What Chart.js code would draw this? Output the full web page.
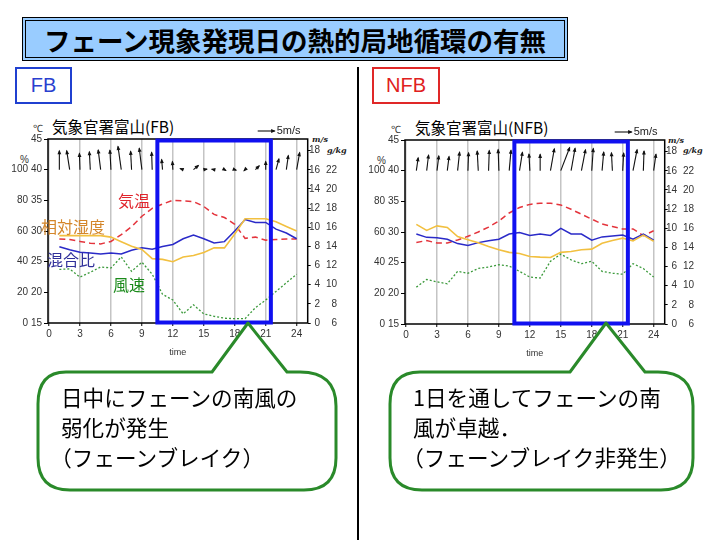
<!DOCTYPE html>
<html><head><meta charset="utf-8">
<script src="https://cdn.jsdelivr.net/npm/chart.js@4.4.1/dist/chart.umd.min.js"></script>
<style>
body{margin:0;background:#fff;}
#page{position:relative;width:720px;height:540px;overflow:hidden;background:#fff;font-family:"Noto Sans CJK JP",sans-serif;}
.abs{position:absolute;white-space:nowrap;line-height:1;}
#title{position:absolute;left:22px;top:17px;width:546px;height:44px;box-sizing:border-box;border:4px double #000;background:#99ccff;display:flex;align-items:center;justify-content:center;font-weight:700;font-size:26.5px;letter-spacing:0px;color:#000;}
.tag{position:absolute;box-sizing:border-box;display:flex;align-items:center;justify-content:center;font-family:"Liberation Sans",sans-serif;font-size:20px;}
#divider{position:absolute;left:357px;top:67px;width:2px;height:473px;background:#000;}
canvas{position:absolute;}
.unit{font-family:"DejaVu Serif",serif;font-style:italic;font-weight:700;font-size:8px;color:#222;}
.sm{font-family:"Liberation Sans",sans-serif;font-size:10px;color:#333;}
.ctitle{font-size:15.5px;color:#000;}
.lbl{font-size:16px;}
.call{font-size:21.6px;line-height:30px;color:#000;}
.hp{font-feature-settings:"halt";}
svg{position:absolute;left:0;top:0;}
</style></head>
<body><div id="page">
<div id="title">フェーン現象発現日の熱的局地循環の有無</div>
<div class="tag" style="left:15px;top:67px;width:57px;height:37px;border:2px solid #2040d0;color:#2a3fcf;">FB</div>
<div class="tag" style="left:372px;top:67px;width:68px;height:37px;border:2px solid #e02828;color:#e02020;">NFB</div>
<div id="divider"></div>

<div class="abs ctitle" style="left:52px;top:119px;">気象官署富山(FB)</div>
<div class="abs ctitle" style="left:415px;top:120px;">気象官署富山(NFB)</div>

<div class="abs sm" style="left:33px;top:124px;">℃</div>
<div class="abs sm" style="left:20px;top:155px;">%</div>
<div class="abs unit" style="left:312px;top:135px;">m/s</div>
<div class="abs unit" style="left:327px;top:146px;">g/kg</div>

<div class="abs sm" style="left:391px;top:125px;">℃</div>
<div class="abs sm" style="left:377px;top:156px;">%</div>
<div class="abs unit" style="left:668px;top:136px;">m/s</div>
<div class="abs unit" style="left:683px;top:146px;">g/kg</div>

<canvas id="fb" width="352" height="240" style="left:0px;top:118px;"></canvas>
<canvas id="nfb" width="352" height="240" style="left:357px;top:119px;"></canvas>

<div class="abs lbl" style="left:118px;top:192px;color:#e0242c;">気温</div>
<div class="abs lbl" style="left:41px;top:218px;color:#d4862a;">相対湿度</div>
<div class="abs lbl" style="left:47px;top:251px;color:#30309a;">混合比</div>
<div class="abs lbl" style="left:113px;top:276px;color:#1a8a1a;">風速</div>

<svg width="720" height="540">
<path d="M66,372 L212,372 L248,323 L287,372 L300,372 Q336,372 336,406 L336,458 Q336,490 304,490 L70,490 Q38,490 38,458 L38,404 Q38,372 66,372 Z" fill="#fff" stroke="#2a8a2a" stroke-width="3" stroke-linejoin="round"/>
<path d="M420,372 L570,372 L606,323 L645,372 L658,372 Q693,372 693,406 L693,458 Q693,490 661,490 L422,490 Q390,490 390,458 L390,404 Q390,372 420,372 Z" fill="#fff" stroke="#2a8a2a" stroke-width="3" stroke-linejoin="round"/>
</svg>

<div class="abs call" style="left:61px;top:382px;">日中にフェーンの南風の<br>弱化が発生<br><span class="hp">（</span>フェーンブレイク<span class="hp">）</span></div>
<div class="abs call" style="left:413px;top:382px;">1日を通してフェーンの南<br>風が卓越．<br><span class="hp">（</span>フェーンブレイク非発生<span class="hp">）</span></div>
</div>

<script>
// ---- data ----
const hours = [1,2,3,4,5,6,7,8,9,10,11,12,13,14,15,16,17,18,19,20,21,22,23,24];
const xTicks = [0,3,6,9,12,15,18,21,24];
const tempTicks = [15,20,25,30,35,40,45];
const rhTicks = [0,20,40,60,80,100];
const windTicks = [0,2,4,6,8,10,12,14,16,18];
const mixTicks = [6,8,10,12,14,16,18,20,22];
const breakWindow = [10.5, 21.5];

// FB day
const fbTemp = [28.7,28.6,28.3,28.0,27.9,28.3,29.4,30.7,32.4,33.7,34.4,35.0,34.9,34.8,34.0,32.7,32.2,31.1,28.8,29.0,28.5,28.6,28.7,28.7];
const fbRH   = [57,57,57,57,57,56,53,50,48,42,41.5,40,43,44,46,49,49,58,68,68,68,66,63,60];
const fbMix  = [13.97,13.65,13.4,13.3,13.2,13.3,13.2,13.6,13.85,13.7,14.0,14.2,14.8,15.2,14.8,14.35,14.5,15.6,16.8,16.5,16.5,15.8,15.4,14.8];
const fbWind = [5.6,5.65,4.8,5.3,5.85,5.75,6.9,5.4,6.35,5.1,3.0,2.4,0.95,1.9,0.95,0.7,0.5,0.45,0.45,1.6,2.4,3.3,4.2,5.1];
const fbDir  = [0,-9,-2,-3,-7,-3,-8,-3,-7,-2,-5,-3,-70,50,80,-80,120,110,225,45,0,15,8,10];

// NFB day
const nfbTemp = [28.3,28.6,28.2,28.2,28.7,29.3,30.0,30.8,31.8,33.1,34.0,34.5,34.7,34.7,34.4,33.7,32.9,32.1,31.3,30.9,30.5,30.5,29.4,30.2];
const nfbRH   = [65,61,64,63,57,55,53,50.5,48.4,46.7,46,44,43.6,43.4,46.7,47.3,48.4,48.8,52.7,54.5,56,54.2,58,54];
const nfbMix  = [15.4,15.05,15.0,14.85,14.4,14.2,14.5,14.7,14.85,15.4,15.55,15.25,15.4,15.25,16.0,15.4,15.4,14.75,15.1,15.2,15.3,14.85,15.4,14.75];
const nfbWind = [3.85,4.65,4.4,4.2,5.5,5.3,5.8,5.95,6.2,6.05,5.5,4.9,4.8,6.55,7.3,6.7,6.3,6.55,5.5,5.3,5.2,6.3,5.8,4.9];
const nfbDir  = [8,7,7,7,6,2,-3,2,-2,5,9,-3,0,10,21,10,11,4,5,-3,3,11,2,8];

const ARROW_PX = 3.4;   // arrow pixels per m/s
const ARROW_BASE = 40;  // arrows drawn from the 40 ℃ level
const REF_SPEED = 5;

function drawArrow(ctx, x0, y0, x1, y1) {
  const dx = x1 - x0, dy = y1 - y0;
  const len = Math.hypot(dx, dy) || 0.001;
  const ux = dx / len, uy = dy / len;
  const h = 3.6, w = 1.9;
  ctx.beginPath(); ctx.moveTo(x0, y0); ctx.lineTo(x1, y1); ctx.stroke();
  ctx.beginPath();
  ctx.moveTo(x1 + ux, y1 + uy);
  ctx.lineTo(x1 - ux*h - uy*w, y1 - uy*h + ux*w);
  ctx.lineTo(x1 - ux*h + uy*w, y1 - uy*h - ux*w);
  ctx.closePath(); ctx.fill();
}

function makeOverlay(speed, dir) {
  return {
    id: 'overlay',
    beforeDatasetsDraw(chart) {
      const {ctx, chartArea: a} = chart;
      ctx.save();
      ctx.strokeStyle = '#000'; ctx.lineWidth = 1.5;
      ctx.strokeRect(a.left, a.top, a.right - a.left, a.bottom - a.top);
      ctx.restore();
    },
    afterDatasetsDraw(chart) {
      const {ctx, chartArea: a, scales} = chart;
      const x = scales.x, yT = scales.yT;
      ctx.save();
      ctx.strokeStyle = '#111'; ctx.fillStyle = '#111'; ctx.lineWidth = 1.1;
      const by = yT.getPixelForValue(ARROW_BASE);
      speed.forEach((s, i) => {
        const bx = x.getPixelForValue(hours[i]);
        const ang = dir[i] * Math.PI / 180;
        const L = s * ARROW_PX;
        drawArrow(ctx, bx, by, bx + L*Math.sin(ang), by - L*Math.cos(ang));
      });
      const lx1 = a.right - 33, ly = a.top - 8;
      drawArrow(ctx, lx1 - REF_SPEED*ARROW_PX, ly, lx1, ly);
      ctx.font = '11px "Liberation Sans", sans-serif';
      ctx.fillStyle = '#222'; ctx.textBaseline = 'middle'; ctx.textAlign = 'left';
      ctx.fillText('5m/s', lx1 + 2, ly);
      ctx.strokeStyle = '#1010f0'; ctx.lineWidth = 4;
      const x0 = x.getPixelForValue(breakWindow[0]), x1 = x.getPixelForValue(breakWindow[1]);
      const y0 = yT.getPixelForValue(tempTicks[tempTicks.length-1]) + 1.5;
      const y1 = yT.getPixelForValue(tempTicks[0]) - 0.5;
      ctx.strokeRect(x0, y0, x1 - x0, y1 - y0);
      ctx.restore();
    }
  };
}

const tickFont = {family: '"Liberation Sans", sans-serif', size: 10};
const tickColor = '#333';
function fixedTicks(arr) { return s => { s.ticks = arr.map(v => ({value: v})); }; }

function makeChart(id, temp, rh, mix, wind, dir) {
  const pts = arr => hours.map((h, i) => ({x: h, y: arr[i]}));
  return new Chart(document.getElementById(id), {
    type: 'line',
    data: { datasets: [
      {label: '風速', data: pts(wind), yAxisID: 'yW', borderColor: '#3c9a3c', borderWidth: 1.3, borderDash: [2, 2], pointRadius: 0, tension: 0},
      {label: '相対湿度', data: pts(rh), yAxisID: 'yRH', borderColor: '#f2c040', borderWidth: 1.6, pointRadius: 0, tension: 0},
      {label: '混合比', data: pts(mix), yAxisID: 'yG', borderColor: '#2a2ac8', borderWidth: 1.5, pointRadius: 0, tension: 0},
      {label: '気温', data: pts(temp), yAxisID: 'yT', borderColor: '#e4343c', borderWidth: 1.5, borderDash: [6, 4], pointRadius: 0, tension: 0}
    ]},
    options: {
      responsive: false, animation: false, events: [],
      layout: {padding: {top: 21, right: 15, left: 0, bottom: 0}},
      plugins: {legend: {display: false}, tooltip: {enabled: false}},
      scales: {
        x: {type: 'linear', min: -0.1, max: 25.07, afterBuildTicks: fixedTicks(xTicks),
            ticks: {font: tickFont, color: tickColor, padding: 2, maxRotation: 0, autoSkip: false},
            grid: {color: '#c4c4c4', lineWidth: 1.5, tickLength: 3, tickColor: '#000', tickWidth: 1},
            border: {display: false},
            title: {display: true, text: 'time', font: {family: '"Liberation Sans", sans-serif', size: 9}, color: '#333', padding: {top: 1, bottom: 0}},
            afterFit: s => { s.height = 35; }},
        yT: {position: 'left', weight: 0, min: 15, max: 45, afterBuildTicks: fixedTicks(tempTicks),
            ticks: {font: tickFont, color: tickColor, padding: 2},
            grid: {drawOnChartArea: false, tickLength: 4, color: '#000'},
            border: {display: false}, afterFit: s => { s.width = 18; }},
        yRH: {position: 'left', weight: 1, min: 0, max: 120, afterBuildTicks: fixedTicks(rhTicks),
            ticks: {font: tickFont, color: tickColor, padding: 2},
            grid: {display: false, drawTicks: false},
            border: {display: false}, afterFit: s => { s.width = 30; }},
        yW: {position: 'right', weight: 0, min: 0, max: 19.22, afterBuildTicks: fixedTicks(windTicks),
            ticks: {font: tickFont, color: tickColor, padding: 2, crossAlign: 'far'},
            grid: {drawOnChartArea: false, tickLength: 3, color: '#000'},
            border: {display: false}, afterFit: s => { s.width = 12.3; }},
        yG: {position: 'right', weight: 1, min: 6, max: 25.22, afterBuildTicks: fixedTicks(mixTicks),
            ticks: {font: tickFont, color: tickColor, padding: 2, crossAlign: 'far'},
            grid: {display: false, drawTicks: false},
            border: {display: false}, afterFit: s => { s.width = 17; }}
      }
    },
    plugins: [makeOverlay(wind, dir)]
  });
}

makeChart('fb', fbTemp, fbRH, fbMix, fbWind, fbDir);
makeChart('nfb', nfbTemp, nfbRH, nfbMix, nfbWind, nfbDir);
</script>
</body></html>
